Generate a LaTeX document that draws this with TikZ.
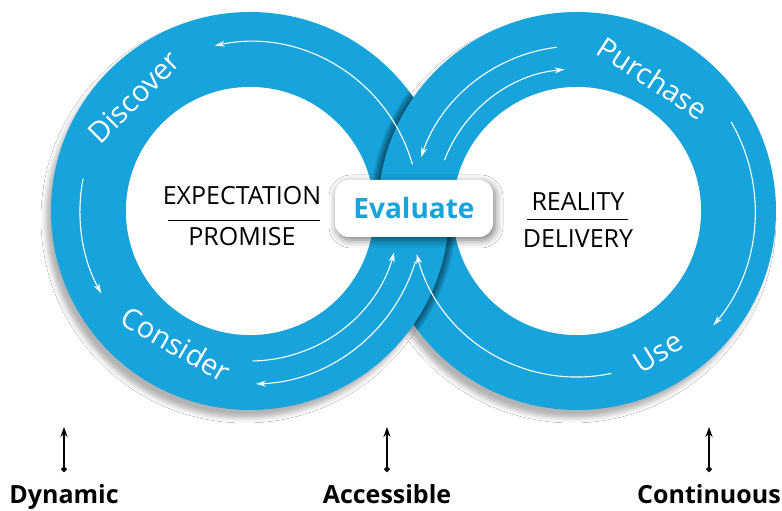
\documentclass[tikz,border=0pt]{standalone}
\usepackage{fontspec}
\setmainfont{Open Sans}
\usetikzlibrary{arrows.meta,calc,shadows.blur}
\definecolor{ringblue}{HTML}{17A3DB}
\tikzset{
  ring/.style       = {fill=ringblue, even odd rule},
  ringshadow/.style = {blur shadow={shadow xshift=-5pt, shadow yshift=-8pt,
                       shadow blur radius=5pt, shadow opacity=30}},
  stage/.style      = {text=white, inner sep=0pt, font=\fontsize{29}{33}\selectfont},
  flow/.style       = {white, line width=1.1pt, -{Stealth[length=10pt,width=6pt]}},
  pair/.style       = {inner sep=0pt, font=\fontsize{25}{29}\selectfont},
  evalbox/.style    = {rectangle, rounded corners=14pt, fill=white,
                       minimum width=158pt, minimum height=57pt,
                       text=ringblue, font=\bfseries\fontsize{28}{32}\selectfont,
                       blur shadow={shadow xshift=2pt, shadow yshift=-3pt,
                       shadow blur radius=8pt, shadow opacity=55}},
  trait/.style      = {anchor=base, inner sep=0pt, font=\bfseries\fontsize{25}{29}\selectfont},
  rise/.style       = {line width=1.9pt, {Circle[length=5.5pt]}-{Stealth[length=10pt,width=7pt]}}
}

\begin{document}
\begin{tikzpicture}[x=1pt, y=1pt]
  \useasboundingbox[fill=white] (0,0) rectangle (782,511);
  \coordinate (L) at (250,300);
  \coordinate (R) at (577,300);

  % rings, woven into each other
  \path[ringshadow] (L) circle[radius=199];
  \path[ringshadow] (R) circle[radius=199];
  \fill[ring] (L) circle[radius=199] (L) circle[radius=124];
  \begin{scope}
    \clip (L) circle[radius=199];
    \clip (360,300) rectangle (470,520);
    \foreach \w in {2,4,...,16}
      \draw[black, opacity=.07, line width=\w pt] (R) circle[radius=199];
  \end{scope}
  \fill[ring] (R) circle[radius=199] (R) circle[radius=124];
  \begin{scope}
    \clip (360,0) rectangle (470,300);
    \begin{scope}
      \clip (R) circle[radius=199];
      \foreach \w in {2,4,...,16}
        \draw[black, opacity=.07, line width=\w pt] (L) circle[radius=199];
    \end{scope}
    \fill[ring] (L) circle[radius=199] (L) circle[radius=124];
  \end{scope}
  \fill[white] (L) circle[radius=124] (R) circle[radius=124];

  % flow arrows
  \draw[flow] ($(L)+(16:169)$) arc[start angle=16, end angle=102, radius=169];
  \draw[flow] ($(L)+(169:170)$) arc[start angle=169, end angle=209, radius=170];
  \draw[flow] ($(L)+(-89:150)$) arc[start angle=-89, end angle=-16, radius=150];
  \draw[flow] ($(L)+(-17:173)$) arc[start angle=-17, end angle=-88, radius=173];
  \draw[flow] ($(R)+(97:165)$) arc[start angle=97, end angle=161, radius=165];
  \draw[flow] ($(R)+(159:142)$) arc[start angle=159, end angle=95, radius=142];
  \draw[flow] ($(R)+(30:178)$) arc[start angle=30, end angle=-40, radius=178];
  \draw[flow] ($(R)+(-78:166)$) arc[start angle=-78, end angle=-165, radius=166];

  \node[stage, rotate=45] (discover) at (134,414) {Discover};
  \node[stage, rotate=-30] (consider) at (176,167) {Consider};
  \node[stage, rotate=-33] (purchase) at (653,433) {Purchase};
  \node[stage, rotate=32] (use) at (658,159) {Use};

  \node[pair] (expect) at (242,315) {EXPECTATION};
  \node[pair] (promise) at (242,274) {PROMISE};
  \draw[line width=.8pt] (168,291) -- (320,291);
  \node[pair] (reality) at (578,309) {REALITY};
  \node[pair] (delivery) at (578,272.5) {DELIVERY};
  \draw[line width=.8pt] (527,292) -- (628,292);

  \node[evalbox] (evaluate) at (414,302.5) {Evaluate};

  \foreach \x/\name/\txt in {64/dyn/Dynamic, 387/acc/Accessible, 709/cont/Continuous} {
    \node[trait] (\name) at (\x,7) {\txt};
    \coordinate (\name base) at (\x,39);
    \coordinate (\name tip) at (\x,84);
    \draw[rise] (\name base) -- (\name tip);
  }
\end{tikzpicture}
\end{document}
